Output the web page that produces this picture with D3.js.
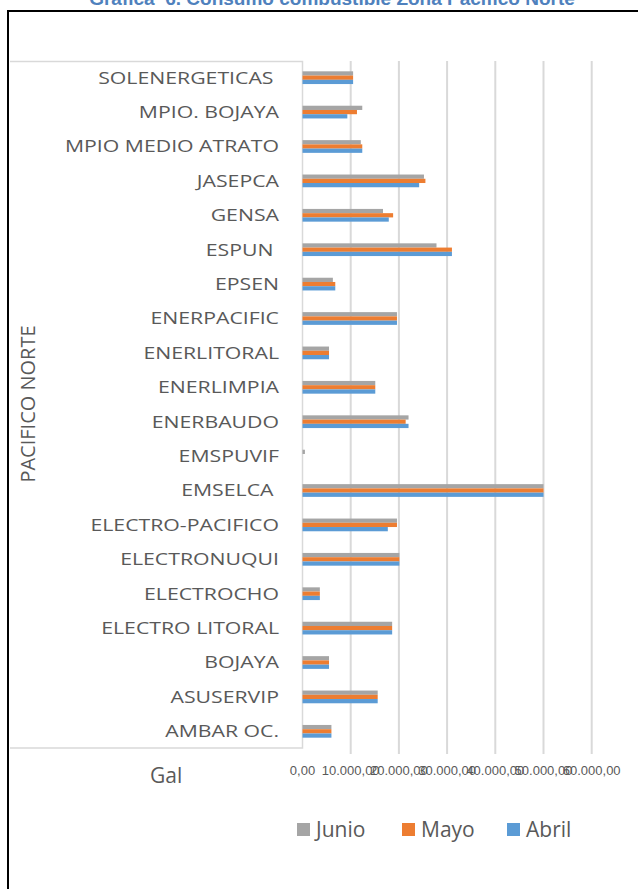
<!DOCTYPE html>
<html>
<head>
<meta charset="utf-8">
<script src="https://cdn.jsdelivr.net/npm/d3@7"></script>
<style>
  html, body { margin: 0; padding: 0; background: #fff; }
  svg { display: block; }
  text { white-space: pre; }
</style>
</head>
<body>
<script>
const categories = ["SOLENERGETICAS ", "MPIO. BOJAYA", "MPIO MEDIO ATRATO", "JASEPCA", "GENSA", "ESPUN ", "EPSEN", "ENERPACIFIC", "ENERLITORAL", "ENERLIMPIA", "ENERBAUDO", "EMSPUVIF", "EMSELCA ", "ELECTRO-PACIFICO", "ELECTRONUQUI", "ELECTROCHO", "ELECTRO LITORAL", "BOJAYA", "ASUSERVIP", "AMBAR OC."];
const seriesNames = ["Junio", "Mayo", "Abril"];
const junio = [10500, 12400, 12100, 25200, 16700, 27800, 6300, 19600, 5500, 15100, 22000, 500, 50000, 19600, 20100, 3600, 18600, 5500, 15600, 6000];
const mayo  = [10500, 11300, 12400, 25500, 18800, 31000, 6800, 19600, 5500, 15100, 21400, 0, 50000, 19600, 20100, 3600, 18600, 5500, 15600, 6000];
const abril = [10500, 9300, 12400, 24200, 17900, 31000, 6800, 19600, 5500, 15100, 22000, 0, 50000, 17700, 20100, 3600, 18600, 5500, 15600, 6000];
const tickValues = [0, 10000, 20000, 30000, 40000, 50000, 60000];
const tickLabels = ["0,00", "10.000,00", "20.000,00", "30.000,00", "40.000,00", "50.000,00", "60.000,00"];
const colors = ["#A5A5A5", "#ED7D31", "#5B9BD5"];
const titleText = "Gráfica  6. Consumo combustible Zona Pacífico Norte";
const axisTitle = "PACIFICO NORTE";
const unitLabel = "Gal";

const W = 638, H = 889;
const svg = d3.select("body").append("svg").attr("width", W).attr("height", H);
const textColor = "#595959";
const font = "'Open Sans', sans-serif";

// Title (partly cut at top, as in the reference)
svg.append("text").attr("x", 332).attr("y", 5).attr("text-anchor", "middle")
  .attr("font-family", "'Liberation Sans', Arial, sans-serif").attr("font-weight", "bold")
  .attr("font-size", 19).attr("fill", "#4F81BD").text(titleText);

// Outer black frame
svg.append("line").attr("x1", 8).attr("x2", W).attr("y1", 11).attr("y2", 11).attr("stroke", "#000").attr("stroke-width", 2);
svg.append("line").attr("x1", 8).attr("x2", 8).attr("y1", 10).attr("y2", H).attr("stroke", "#000").attr("stroke-width", 2);

const x = d3.scaleLinear().domain([0, 60000]).range([302.5, 591.7]);
const y = d3.scaleBand().domain(categories).range([61, 748]).paddingInner(0.63).paddingOuter(0.3);
const ys = d3.scaleBand().domain(seriesNames).range([0, y.bandwidth()]);

// Gridlines
svg.append("g").selectAll("line").data(tickValues.slice(1)).join("line")
  .attr("x1", d => x(d)).attr("x2", d => x(d)).attr("y1", 61).attr("y2", 754)
  .attr("stroke", "#D9D9D9").attr("stroke-width", 2);

// Category box
svg.append("path").attr("d", `M10,61.5H302.5V748H10`).attr("fill", "none").attr("stroke", "#D9D9D9").attr("stroke-width", 1.5);

// Bars
const seriesData = [junio, mayo, abril];
seriesData.forEach((vals, si) => {
  svg.append("g").selectAll("rect").data(vals).join("rect")
    .attr("x", x(0))
    .attr("y", (d, i) => y(categories[i]) + ys(seriesNames[si]))
    .attr("width", d => x(d) - x(0))
    .attr("height", ys.bandwidth())
    .attr("fill", colors[si]);
});

// Category labels
svg.append("g").selectAll("text").data(categories).join("text")
  .attr("transform", d => `translate(279,${y(d) + y.bandwidth() / 2}) scale(1.25,1)`)
  .attr("dy", "0.35em").attr("text-anchor", "end")
  .attr("font-family", font).attr("font-size", 17).attr("fill", textColor).text(d => d);

// Axis title rotated
svg.append("text").attr("transform", `translate(35,404) rotate(-90)`).attr("text-anchor", "middle")
  .attr("font-family", font).attr("font-size", 20).attr("fill", textColor).text(axisTitle);

// Tick labels
svg.append("g").selectAll("text").data(tickValues).join("text")
  .attr("x", d => x(d)).attr("y", 775).attr("text-anchor", "middle")
  .attr("font-family", "'Liberation Sans', Arial, sans-serif").attr("font-size", 13).attr("fill", textColor)
  .text((d, i) => tickLabels[i]);

// Unit label
svg.append("text").attr("x", 150).attr("y", 783).attr("font-family", font).attr("font-size", 21).attr("fill", textColor).text(unitLabel);

// Legend
const legendX = [297, 402, 507];
seriesNames.forEach((s, i) => {
  svg.append("rect").attr("x", legendX[i]).attr("y", 823).attr("width", 13).attr("height", 13).attr("fill", colors[i]);
  svg.append("text").attr("x", legendX[i] + 19).attr("y", 837).attr("font-family", font).attr("font-size", 21).attr("fill", textColor).text(s);
});
</script>
</body>
</html>
